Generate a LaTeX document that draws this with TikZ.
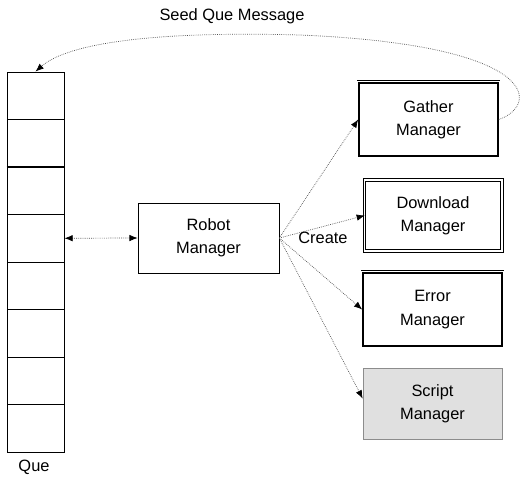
\documentclass[tikz,border=0pt]{standalone}
\usepackage{fontspec}
\setmainfont{Liberation Sans}
\usetikzlibrary{arrows.meta}

\begin{document}
\begin{tikzpicture}[x=0.03cm, y=-0.03cm, font=\fontsize{14}{20}\selectfont,
  cell/.style={draw=black, thick, minimum width=1.71cm, minimum height=1.425cm, inner sep=0pt},
  mgr/.style={draw=black, semithick, align=center, minimum width=4.17cm, minimum height=2.19cm, inner sep=0pt},
  link/.style={densely dotted, semithick, draw=black!70, -{Latex[length=7pt, width=5.5pt, color=black]}}]
\useasboundingbox (0,0) rectangle (528,479);
% the queue
\foreach \i in {1,...,8}
  \node[cell] (q\i) at (35.5, {72+47.5*(\i-0.5)}) {};
\draw[very thick] (q3.north west) -- (q3.north east);
\node (que) at (34,467) {Que};
% managers
\node[mgr, minimum width=4.23cm, minimum height=2.1cm] (robot) at (208.5,238) {Robot\\Manager};
\node[mgr, line width=1.4pt] (gm) at (428.5,119.5) {Gather\\Manager};
\draw[semithick] ([shift={(-0.6pt,1.6pt)}]gm.north west) -- ([shift={(0.6pt,1.6pt)}]gm.north east);
\node[mgr, line width=1.1pt, minimum width=4.05cm, minimum height=2.05cm] (dm) at (433,215.5) {Download\\Manager};
\draw[semithick] ([shift={(-1.6pt,1.6pt)}]dm.north west) rectangle ([shift={(1.6pt,-1.6pt)}]dm.south east);
\node[mgr, line width=1.4pt] (em) at (432.5,309.5) {Error\\Manager};
\draw[semithick] ([shift={(-0.6pt,1.6pt)}]em.north west) -- ([shift={(0.6pt,1.6pt)}]em.north east);
\node[mgr, draw=black!45, fill=black!12, minimum height=2.13cm] (sm) at (432.5,403.5) {Script\\Manager};
% links
\draw[link, {Latex[length=7pt, width=5.5pt, color=black]}-{Latex[length=7pt, width=5.5pt, color=black]}] (q4.east) -- (robot.west);
\draw[link] (robot.east) -- (gm.west);
\draw[link] (robot.east) -- (dm.west);
\draw[link] (robot.east) -- (em.west);
\draw[link] (robot.east) -- ([yshift=0.15cm]sm.west);
\node (create) at (323,238) {Create};
\draw[link] (gm.east) .. controls (540,105) and (540,45) .. (300,35) .. controls (120,30) and (60,50) .. (q1.north);
\node (seed) at (232,16) {Seed Que Message};
\end{tikzpicture}
\end{document}
